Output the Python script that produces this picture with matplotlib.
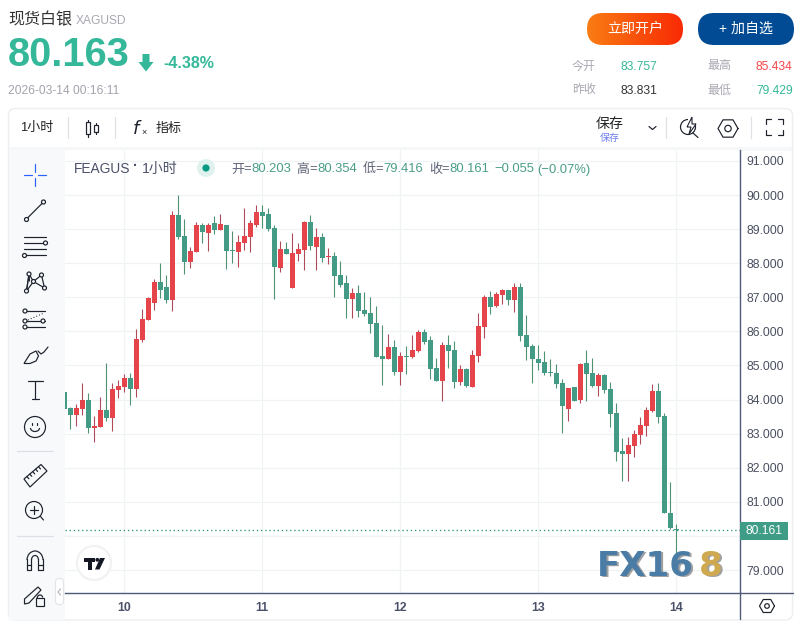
import numpy as np
import matplotlib
matplotlib.use("Agg")
import matplotlib.pyplot as plt
from matplotlib.patches import Circle, FancyBboxPatch, Rectangle, Polygon, Arc
from matplotlib.ticker import FixedLocator

plt.rcParams['font.family'] = ['Liberation Sans', 'Noto Sans CJK SC', 'DejaVu Sans']

opens = [84.21,83.74,83.54,83.72,83.98,83.16,83.19,83.69,83.45,84.27,
         84.36,84.63,84.30,85.74,86.33,86.83,87.45,87.30,86.92,89.42,
         88.80,88.04,88.33,89.13,88.89,89.19,88.98,89.13,88.39,88.33,
         88.60,88.77,89.13,89.51,89.45,89.04,87.86,88.42,87.27,88.27,
         88.39,89.22,88.48,88.78,88.19,88.22,87.66,87.42,86.95,87.13,
         86.63,86.54,86.25,85.28,85.19,85.54,84.80,85.28,85.25,85.42,
         85.98,85.75,84.92,84.54,85.60,85.45,84.51,84.89,84.36,85.28,
         86.13,87.01,86.75,87.07,87.22,86.92,87.30,85.90,85.57,85.19,
         85.11,84.81,84.79,84.49,83.73,84.38,83.99,85.08,84.79,84.41,
         84.73,84.32,83.61,82.50,82.39,82.65,82.97,83.23,83.67,84.26,
         83.53,80.66,80.20]
highs = [84.25,83.77,83.86,84.48,84.19,83.51,84.07,85.07,84.48,84.57,
         84.74,84.77,86.07,86.66,87.01,87.54,88.01,87.66,89.54,90.01,
         89.30,88.48,89.22,89.19,89.19,89.39,89.45,89.13,88.95,88.83,
         89.63,89.27,89.72,89.72,89.63,89.13,88.66,88.63,88.89,88.60,
         89.25,89.42,89.04,88.89,88.45,88.33,88.07,87.66,87.27,87.36,
         87.16,87.01,86.75,86.19,85.92,85.75,85.39,85.57,85.89,86.04,
         86.07,85.86,85.22,85.69,85.89,85.72,85.01,84.92,85.45,86.54,
         87.07,87.19,87.16,87.25,87.22,87.42,87.42,86.48,85.63,85.60,
         85.43,85.19,85.05,84.61,84.35,84.38,85.08,85.46,85.22,84.79,
         84.76,84.52,83.91,82.88,82.91,83.12,83.50,83.79,84.46,84.49,
         83.61,81.59,80.35]
lows = [83.60,83.13,83.22,83.54,83.01,82.77,83.19,83.36,83.07,84.04,
        84.21,83.83,84.07,85.69,86.33,86.63,86.98,86.83,86.60,88.72,
        87.69,87.86,88.33,88.60,88.36,88.86,88.98,87.83,88.01,87.89,
        88.39,88.33,89.07,89.04,88.95,86.95,87.74,88.27,87.27,88.07,
        87.80,88.39,87.80,88.04,87.98,87.01,87.30,86.39,86.39,86.42,
        86.45,85.95,85.25,84.42,85.19,84.72,84.42,84.75,85.22,85.39,
        85.63,84.60,84.54,83.95,84.92,84.33,84.42,84.36,84.36,85.10,
        85.80,86.51,86.72,86.80,86.78,86.57,85.72,85.17,84.49,84.87,
        84.73,84.70,84.35,83.03,83.38,83.97,83.91,83.97,84.38,84.11,
        84.20,83.20,82.21,81.62,81.62,82.33,82.71,82.94,83.64,83.32,
        80.66,80.19,79.42]
closes = [83.73,83.54,83.74,83.98,83.16,83.22,83.69,83.45,84.30,84.39,
          84.63,84.30,85.77,86.36,86.98,87.45,87.21,86.92,89.42,88.77,
          88.04,88.36,89.13,88.92,89.13,88.98,89.16,88.36,88.36,88.63,
          88.80,89.19,89.51,89.39,89.01,87.89,88.42,88.27,88.30,88.42,
          89.22,88.51,88.78,88.16,88.22,87.63,87.36,86.95,87.13,86.60,
          86.51,86.22,85.25,85.19,85.54,84.80,85.28,85.25,85.45,85.98,
          85.69,84.89,84.54,85.60,85.42,84.51,84.89,84.39,85.30,86.16,
          87.01,86.72,87.10,87.22,86.92,87.30,85.87,85.55,85.19,85.08,
          84.79,84.79,84.46,83.82,84.35,83.97,85.05,84.76,84.41,84.73,
          84.29,83.59,82.47,82.39,82.68,83.00,83.26,83.70,84.26,83.50,
          80.66,80.22,80.16]
day_positions = [10, 33, 56, 79, 102]
day_labels = ['10', '11', '12', '13', '14']
price_ticks = [79, 80, 81, 82, 83, 84, 85, 86, 87, 88, 89, 90, 91]
last_price = 80.161

W, H = 804, 622
fig = plt.figure(figsize=(W / 100, H / 100), dpi=100, facecolor='white')

UP, DOWN = '#e5444b', '#439a85'
UPW, DOWNW = '#b04a58', '#4f9272'
GRID = '#f1f2f4'
AXIS = '#4f5a78'
PX = 0.72

ax = fig.add_axes([65 / W, (H - 593) / H, 675 / W, 443 / H], zorder=1)
ax.set_xlim((65 - 64.3) / 6, (740 - 64.3) / 6)
ax.set_ylim(87 - 295.7 / 34.09, 87 + 147.3 / 34.09)
x = np.arange(len(opens))
o, h, l, c = map(np.array, (opens, highs, lows, closes))
up = c >= o
ax.vlines(x[up], l[up], h[up], color=UPW, lw=PX * 1.1, zorder=3)
ax.vlines(x[~up], l[~up], h[~up], color=DOWNW, lw=PX * 1.1, zorder=3)
ax.bar(x[up], (c - o)[up], bottom=o[up], width=5 / 6, color=UP, lw=0, zorder=4)
ax.bar(x[~up], (o - c)[~up], bottom=c[~up], width=5 / 6, color=DOWN, lw=0, zorder=4)
ax.axhline(last_price, color='#1f9674', lw=PX * 1.3, ls=(0, (1, 2.2)), zorder=2)
ax.xaxis.set_major_locator(FixedLocator(day_positions))
ax.yaxis.set_major_locator(FixedLocator(price_ticks))
ax.grid(True, color=GRID, lw=PX * 1.3, zorder=0)
ax.set_axisbelow(True)
ax.yaxis.tick_right()
ax.tick_params(length=0, pad=4.5, labelsize=8.8, colors='#4a4f60')
ax.set_xticklabels(day_labels, fontweight='bold', color='#4a5068')
ax.tick_params(axis='x', pad=6.5)
ax.set_yticklabels([f'{t:.3f}' for t in price_ticks])
for s in ('top', 'left'):
    ax.spines[s].set_visible(False)
for s in ('right', 'bottom'):
    ax.spines[s].set_color(AXIS)
    ax.spines[s].set_linewidth(PX * 1.4)

# page furniture in pixel coordinates
bg = fig.add_axes([0, 0, 1, 1], zorder=0)
bg.set_xlim(0, W); bg.set_ylim(H, 0); bg.axis('off')
ov = fig.add_axes([0, 0, 1, 1], zorder=2)
ov.set_xlim(0, W); ov.set_ylim(H, 0); ov.axis('off'); ov.patch.set_alpha(0)

bg.add_patch(FancyBboxPatch((8.5, 108.5), 784, 511.5, boxstyle='round,pad=0,rounding_size=7',
                            fc='white', ec='#eceef1', lw=1))
bg.add_patch(Rectangle((9, 147), 783, 3.5, fc='#f6f7f9', lw=0))
bg.add_patch(Rectangle((9, 150), 56, 469.5, fc='#f8f9fa', lw=0))


def T(xp, yp, s, size, color='#333333', ha='left', weight='normal', **kw):
    ov.text(xp, yp, s, fontsize=size * 0.72, color=color, ha=ha, va='center',
            fontweight=weight, **kw)


INK = '#1e222d'


def L(xs, ys, lw=1.0, color=INK, zorder=2.5, **kw):
    ov.plot(xs, ys, color=color, lw=lw * PX * 1.2, solid_capstyle='round', zorder=zorder, **kw)


def C(xp, yp, r, fc='#f8f9fa', ec=INK, lw=1.0):
    ov.add_patch(Circle((xp, yp), r, fc=fc, ec=ec, lw=lw * PX * 1.2, zorder=5))


# axis extensions
L([740, 793], [593, 593], lw=1.15, color=AXIS)
L([740, 740], [593, 619], lw=1.15, color=AXIS)

# header
T(8, 20, '现货白银', 16, '#333333')
T(76, 20.5, 'XAGUSD', 12, '#a9a9b3')
T(8, 55, '80.163', 39.8, '#35b899', weight='bold')
ov.add_patch(Polygon([(142.5, 54), (149.5, 54), (149.5, 62), (153.5, 62), (146, 71.5), (138.5, 62), (142.5, 62)],
                     fc='#35b899', lw=0))
T(163, 64, '-4.38%', 16, '#35b899', weight='bold')
T(8, 90.5, '2026-03-14 00:16:11', 12, '#a3a3ad')

# buttons
grad = np.linspace(0, 1, 128).reshape(1, -1)
cm = matplotlib.colors.LinearSegmentedColormap.from_list('o', ['#f97c14', '#f92a04'])
im = ov.imshow(grad, extent=(587, 683, 45, 13), cmap=cm, aspect='auto', zorder=1)
clip = FancyBboxPatch((587, 13), 96, 32, boxstyle='round,pad=0,rounding_size=16', fc='none', lw=0,
                      transform=ov.transData)
ov.add_patch(clip)
im.set_clip_path(clip)
ov.set_xlim(0, W); ov.set_ylim(H, 0)
ov.add_patch(FancyBboxPatch((698, 13), 96, 32, boxstyle='round,pad=0,rounding_size=16', fc='#004b93', lw=0))
T(635, 29, '立即开户', 14, 'white', ha='center')
T(746, 29, '+ 加自选', 14, 'white', ha='center')

# stats
for xp, yp, s, col in [(572, 66.5, '今开', '#a9a9b3'), (621, 66.5, '83.757', '#35b899'),
                       (707, 66.5, '最高', '#a9a9b3'), (756, 66.5, '85.434', '#f4484a'),
                       (572, 90.5, '昨收', '#a9a9b3'), (621, 90.5, '83.831', '#333333'),
                       (707, 90.5, '最低', '#a9a9b3'), (756, 90.5, '79.429', '#35b899')]:
    T(xp, yp, s, 12, col)

# top toolbar
T(20, 128.5, '1小时', 13, '#222222')
for xs in (68, 115.5, 666.5, 751.5):
    ov.plot([xs, xs], [117, 138], color='#dfe1e6', lw=PX * 1.2)
for cx, top, bot, w1, w2 in [(88.5, 120, 137, 122, 134), (96.5, 123, 134, 125, 132)]:
    L([cx, cx], [top, w1]); L([cx, cx], [w2, bot])
    ov.add_patch(Rectangle((cx - 2, w1), 4, w2 - w1, fc='white', ec=INK, lw=PX * 1.2))
T(132, 129, '$f$', 18, INK)
T(141, 133, '×', 9, INK)
T(156, 128.5, '指标', 13, '#222222')
T(609.5, 124, '保存', 14, '#222222', ha='center')
T(609.5, 137.5, '保存', 10, '#6f7fef', ha='center')
L([649, 652.5, 656], [126.5, 129.5, 126.5])
C(688, 127, 7.5, fc='white')
ov.add_patch(Rectangle((688, 116), 7, 9, fc='white', lw=0, zorder=6))
ov.add_patch(Polygon([(692, 117), (687, 127), (691, 127), (689, 134), (696, 124), (692, 124)],
                     fc='white', ec=INK, lw=PX * 1.1, zorder=7))
L([693, 698], [133, 137.5], zorder=7)
hx = 728 + 10 * np.cos(np.arange(7) * np.pi / 3); hy = 128.5 + 10 * np.sin(np.arange(7) * np.pi / 3)
L(hx, hy)
C(728, 128.5, 3.2, fc='white')
for (a, b, dx, dy) in [(766, 119, 1, 1), (783, 119, -1, 1), (766, 135, 1, -1), (783, 135, -1, -1)]:
    L([a + 5 * dx, a, a], [b, b, b + 5 * dy])

# legend row
T(74, 169, 'FEAGUS', 13.8, '#4a5068')
T(133.5, 166.5, '·', 14, '#4a5068', weight='bold')
T(142, 169, '1小时', 14, '#4a5068')
ov.add_patch(Circle((206, 168), 9, fc='#e0f2ee', lw=0))
ov.add_patch(Circle((206, 168), 3.6, fc='#089981', lw=0))
GV = '#4a9e88'; GL = '#5f6478'
for xp, s, col in [(231, '开', GL), (243.5, '=', GL), (251, '80.203', GV),
                   (296.5, '高', GL), (309, '=', GL), (317, '80.354', GV),
                   (362.5, '低', GL), (375, '=', GL), (383, '79.416', GV),
                   (429, '收', GL), (441.5, '=', GL), (449, '80.161', GV),
                   (494, '−0.055', GV), (537, '(−0.07%)', GV)]:
    T(xp, 169.5, s, 13, col)

# side toolbar
BLUE = '#2962ff'
L([24, 32], [175, 175], color=BLUE); L([38, 46], [175, 175], color=BLUE)
L([35, 35], [164, 172], color=BLUE); L([35, 35], [178, 186], color=BLUE)
L([26.5, 43.5], [219, 202]); C(26.5, 219.5, 2); C(43.5, 202, 2)
for yy in (237, 243, 249, 255):
    L([24, 46], [yy, yy])
C(45.5, 243, 2); C(24.5, 255.5, 2)
pts = [(29, 274), (41.5, 275), (26.5, 291), (44.5, 288), (33.5, 281.5)]
L([26.5, 29, 33.5, 41.5, 44.5], [291, 274, 281.5, 275, 288])
L([26.5, 33.5, 44.5], [291, 281.5, 288])
L([29, 29.5], [274, 281]); L([29, 26.5], [274, 291])
for p in pts:
    C(p[0], p[1], 2)
for yy in (311, 321, 327):
    L([25, 45], [yy, yy])
ov.plot([28, 44], [320, 313], color=INK, lw=PX, ls=(0, (1, 2)))
for p in [(25, 311), (25, 321), (43, 321), (25, 327)]:
    C(p[0], p[1], 2)
ov.add_patch(Polygon([(24, 363.5), (30, 354), (36, 351), (38.5, 356), (36, 361), (30, 363.5)], fc='#f8f9fa', ec=INK, lw=PX * 1.2))
L([38, 41, 44, 48], [351, 354, 352, 347])
L([28, 43], [381, 381]); L([35.5, 35.5], [381, 399]); L([32, 39], [399, 399])
C(35, 427, 10.5)
L([32.5, 32.5], [423, 424.5], zorder=6); L([37.5, 37.5], [423, 424.5], zorder=6)
ov.add_patch(Arc((35, 428), 9, 7, theta1=0, theta2=180, ec=INK, lw=PX * 1.2, zorder=6))
L([17, 53], [451, 451], color='#dcdfe8'); L([17, 53], [536, 536], color='#dcdfe8')
ov.add_patch(Polygon([(24, 479), (41, 464.5), (47, 471), (30, 487)], fc='#f8f9fa', ec=INK, lw=PX * 1.2))
for k in range(1, 6):
    xa = 24 + k * 2.9; ya = 479 - k * 2.45
    L([xa, xa + 2], [ya, ya + 2.2], zorder=6)
C(34, 510, 8.5)
L([30, 38], [510, 510], zorder=6); L([34, 34], [506, 514], zorder=6); L([40.5, 43.5], [516.5, 520], zorder=6)
ov.add_patch(Arc((35, 560), 16, 18, theta1=180, theta2=360, ec=INK, lw=PX * 1.2))
ov.add_patch(Arc((35, 560), 7, 9, theta1=180, theta2=360, ec=INK, lw=PX * 1.2))
L([27, 27, 31.5, 31.5], [559, 570, 570, 559]); L([38.5, 38.5, 43, 43], [559, 570, 570, 559])
L([27, 31.5], [565, 565]); L([38.5, 43], [565, 565])
ov.add_patch(Polygon([(24.5, 599), (38, 587), (41, 590), (29, 603), (24.5, 604)], fc='#f8f9fa', ec=INK, lw=PX * 1.2))
ov.add_patch(Rectangle((36, 598), 8, 7.5, fc='#f8f9fa', ec=INK, lw=PX * 1.2))
ov.add_patch(Arc((40, 598), 5.5, 6, theta1=180, theta2=350, ec=INK, lw=PX * 1.2))
ov.add_patch(FancyBboxPatch((55.5, 578.5), 8, 26, boxstyle='round,pad=0,rounding_size=3.5', fc='white', ec='#e3e5ea', lw=PX * 1.2))
L([60.5, 58, 60.5], [589, 592, 595], color='#b5b8c0')

# chart overlays
ov.add_patch(Circle((94, 563), 17, fc='white', ec='#f0f1f3', lw=1.5))
ov.add_patch(Rectangle((84, 558), 11, 4, fc='#131722', lw=0))
ov.add_patch(Rectangle((88, 562), 4, 7.5, fc='#131722', lw=0))
ov.add_patch(Polygon([(100, 558), (105, 558), (99.5, 569.5), (95, 569.5)], fc='#131722', lw=0))
ov.add_patch(Circle((97.3, 559.8), 1.9, fc='#131722', lw=0))

ov.add_patch(Rectangle((740, 522), 48, 17.5, fc='#3f9c86', lw=0))
T(764, 530.5, '80.161', 12, 'white', ha='center')

for dx, dy, col, a in [(1.5, 1.5, '#555555', 0.55), (0, 0, '#4a7ca6', 1)]:
    ov.text(597 + dx, 566 + dy, 'FX16', fontsize=24.5, color=col, alpha=a, fontweight='bold',
            family='DejaVu Sans', va='center', ha='left', zorder=8)
    ov.text(723 + dx, 566 + dy, '8', fontsize=24.5, color='#555555' if dx else '#cfa94f', alpha=a,
            fontweight='bold', family='DejaVu Sans', va='center', ha='right', zorder=8)

hx = 767 + 7.5 * np.cos(np.arange(7) * np.pi / 3); hy = 606 + 7.5 * np.sin(np.arange(7) * np.pi / 3)
L(hx, hy)
C(767, 606, 2.3, fc='white')

fig.savefig('out.png', dpi=100)
